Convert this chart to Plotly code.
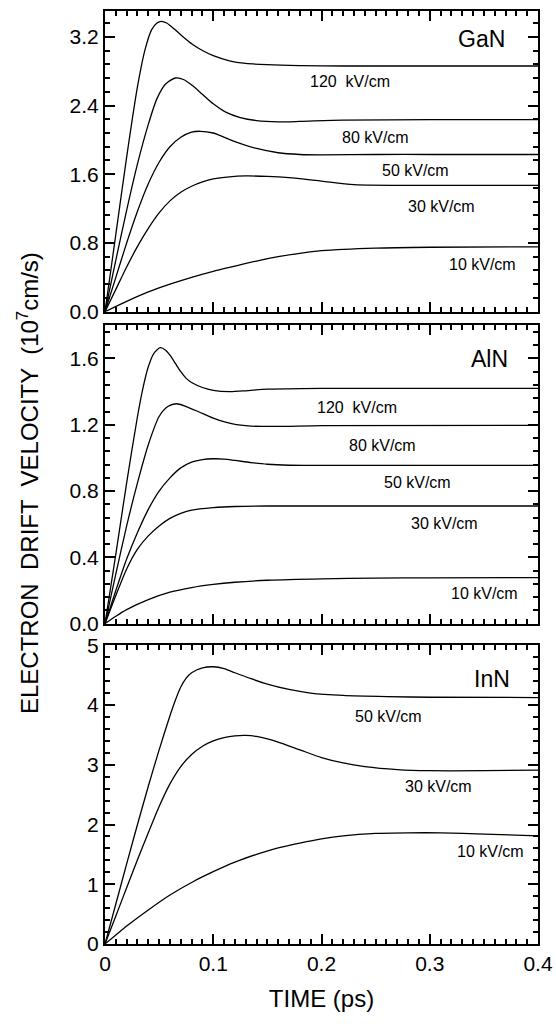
import plotly.graph_objects as go

# ---------------- data (time in ps, velocity in 1e7 cm/s) ----------------
gan_120_t = [0, 0.01, 0.02, 0.03, 0.037, 0.043, 0.048, 0.052, 0.057, 0.064, 0.072, 0.081, 0.09, 0.1, 0.115, 0.13, 0.15, 0.18, 0.22, 0.3, 0.4]
gan_120_v = [0, 0.9, 1.8, 2.62, 3.05, 3.28, 3.36, 3.38, 3.36, 3.29, 3.2, 3.11, 3.04, 2.98, 2.92, 2.89, 2.875, 2.865, 2.86, 2.86, 2.86]
gan_80_t = [0, 0.01, 0.02, 0.03, 0.04, 0.048, 0.056, 0.065, 0.073, 0.081, 0.09, 0.1, 0.112, 0.125, 0.14, 0.16, 0.18, 0.22, 0.3, 0.4]
gan_80_v = [0, 0.6, 1.18, 1.72, 2.18, 2.48, 2.65, 2.72, 2.7, 2.63, 2.53, 2.42, 2.32, 2.26, 2.225, 2.21, 2.215, 2.23, 2.235, 2.235]
gan_50_t = [0, 0.01, 0.02, 0.03, 0.04, 0.05, 0.06, 0.07, 0.08, 0.088, 0.1, 0.12, 0.14, 0.16, 0.18, 0.2, 0.25, 0.3, 0.4]
gan_50_v = [0, 0.4, 0.8, 1.17, 1.49, 1.74, 1.92, 2.03, 2.09, 2.1, 2.08, 1.98, 1.9, 1.85, 1.83, 1.825, 1.83, 1.83, 1.83]
gan_30_t = [0, 0.01, 0.02, 0.03, 0.04, 0.05, 0.06, 0.07, 0.08, 0.09, 0.1, 0.115, 0.13, 0.15, 0.17, 0.2, 0.23, 0.3, 0.4]
gan_30_v = [0, 0.26, 0.52, 0.76, 0.97, 1.15, 1.29, 1.39, 1.46, 1.51, 1.545, 1.57, 1.58, 1.575, 1.56, 1.52, 1.48, 1.47, 1.47]
gan_10_t = [0, 0.02, 0.04, 0.06, 0.08, 0.1, 0.12, 0.14, 0.16, 0.18, 0.2, 0.25, 0.3, 0.4]
gan_10_v = [0, 0.12, 0.23, 0.32, 0.4, 0.47, 0.53, 0.59, 0.64, 0.68, 0.71, 0.74, 0.75, 0.755]

aln_120_t = [0, 0.01, 0.02, 0.03, 0.035, 0.04, 0.045, 0.051, 0.056, 0.06, 0.065, 0.07, 0.075, 0.08, 0.09, 0.1, 0.115, 0.13, 0.15, 0.2, 0.4]
aln_120_v = [0, 0.42, 0.85, 1.25, 1.42, 1.55, 1.63, 1.665, 1.65, 1.62, 1.57, 1.52, 1.48, 1.455, 1.425, 1.408, 1.40, 1.405, 1.415, 1.42, 1.42]
aln_80_t = [0, 0.01, 0.02, 0.03, 0.04, 0.05, 0.058, 0.066, 0.075, 0.087, 0.1, 0.118, 0.135, 0.16, 0.2, 0.4]
aln_80_v = [0, 0.3, 0.59, 0.85, 1.08, 1.25, 1.31, 1.327, 1.31, 1.277, 1.24, 1.205, 1.192, 1.19, 1.195, 1.197]
aln_50_t = [0, 0.01, 0.02, 0.03, 0.04, 0.05, 0.06, 0.07, 0.08, 0.09, 0.1, 0.11, 0.12, 0.135, 0.15, 0.17, 0.2, 0.4]
aln_50_v = [0, 0.2, 0.39, 0.55, 0.69, 0.8, 0.88, 0.94, 0.975, 0.99, 0.995, 0.993, 0.985, 0.972, 0.962, 0.956, 0.955, 0.955]
aln_30_t = [0, 0.01, 0.02, 0.03, 0.04, 0.05, 0.06, 0.07, 0.08, 0.1, 0.12, 0.15, 0.4]
aln_30_v = [0, 0.17, 0.33, 0.45, 0.53, 0.59, 0.635, 0.665, 0.685, 0.7, 0.707, 0.71, 0.71]
aln_10_t = [0, 0.01, 0.02, 0.04, 0.06, 0.08, 0.1, 0.12, 0.15, 0.2, 0.25, 0.3, 0.4]
aln_10_v = [0, 0.045, 0.085, 0.145, 0.19, 0.218, 0.237, 0.25, 0.262, 0.271, 0.275, 0.277, 0.278]

inn_50_t = [0, 0.01, 0.02, 0.03, 0.04, 0.05, 0.06, 0.065, 0.07, 0.075, 0.08, 0.09, 0.1, 0.11, 0.12, 0.135, 0.15, 0.17, 0.19, 0.22, 0.26, 0.3, 0.4]
inn_50_v = [0, 0.67, 1.34, 2.0, 2.64, 3.25, 3.82, 4.08, 4.3, 4.45, 4.54, 4.62, 4.64, 4.61, 4.54, 4.44, 4.35, 4.26, 4.2, 4.16, 4.14, 4.13, 4.125]
inn_30_t = [0, 0.01, 0.02, 0.03, 0.04, 0.05, 0.06, 0.07, 0.08, 0.09, 0.1, 0.11, 0.12, 0.13, 0.14, 0.15, 0.16, 0.18, 0.2, 0.22, 0.24, 0.27, 0.3, 0.35, 0.4]
inn_30_v = [0, 0.47, 0.94, 1.41, 1.86, 2.3, 2.68, 2.97, 3.17, 3.31, 3.4, 3.455, 3.483, 3.49, 3.475, 3.435, 3.38, 3.25, 3.12, 3.03, 2.97, 2.92, 2.9, 2.9, 2.91]
inn_10_t = [0, 0.01, 0.02, 0.04, 0.06, 0.08, 0.1, 0.12, 0.14, 0.16, 0.18, 0.2, 0.22, 0.25, 0.28, 0.31, 0.35, 0.4]
inn_10_v = [0, 0.15, 0.3, 0.57, 0.82, 1.03, 1.21, 1.37, 1.5, 1.61, 1.69, 1.76, 1.81, 1.85, 1.86, 1.86, 1.84, 1.81]

x_tickvals = [0, 0.1, 0.2, 0.3, 0.4]
x_ticktext = ["0", "0.1", "0.2", "0.3", "0.4"]
gan_ticks = [0.0, 0.8, 1.6, 2.4, 3.2]
gan_ticktext = ["0.0", "0.8", "1.6", "2.4", "3.2"]
aln_ticks = [0.0, 0.4, 0.8, 1.2, 1.6]
aln_ticktext = ["0.0", "0.4", "0.8", "1.2", "1.6"]
inn_ticks = [0, 1, 2, 3, 4, 5]
inn_ticktext = ["0", "1", "2", "3", "4", "5"]

panels = [
    ("GaN", [(gan_120_t, gan_120_v), (gan_80_t, gan_80_v), (gan_50_t, gan_50_v), (gan_30_t, gan_30_v), (gan_10_t, gan_10_v)]),
    ("AlN", [(aln_120_t, aln_120_v), (aln_80_t, aln_80_v), (aln_50_t, aln_50_v), (aln_30_t, aln_30_v), (aln_10_t, aln_10_v)]),
    ("InN", [(inn_50_t, inn_50_v), (inn_30_t, inn_30_v), (inn_10_t, inn_10_v)]),
]

FONT = "Liberation Sans, Arial, Helvetica, sans-serif"
fig = go.Figure()

for i, (name, curves) in enumerate(panels):
    n = "" if i == 0 else str(i + 1)
    for t, v in curves:
        fig.add_trace(go.Scatter(x=t, y=v, mode="lines", xaxis="x" + n, yaxis="y" + n,
                                 line=dict(color="black", width=1.3, shape="spline", smoothing=0.7),
                                 showlegend=False))

domains = [[0.6777, 1.0], [0.3433, 0.6631], [0.0, 0.3202]]
yranges = [[0, 3.5], [0, 1.8], [0, 5]]
yticks = [(gan_ticks, gan_ticktext, 0.16), (aln_ticks, aln_ticktext, 0.08), (inn_ticks, inn_ticktext, 0.2)]

layout = dict(
    template="none",
    width=556, height=1032,
    margin=dict(l=105, r=18, t=11, b=88, autoexpand=False),
    paper_bgcolor="white", plot_bgcolor="white",
    showlegend=False,
)

for i in range(3):
    n = "" if i == 0 else str(i + 1)
    tv, tt, mdt = yticks[i]
    layout["xaxis" + n] = dict(
        domain=[0, 1], anchor="y" + n, range=[0, 0.4],
        showline=True, linecolor="black", linewidth=2, mirror="ticks",
        ticks="inside", ticklen=10, tickwidth=1.5, tickcolor="black",
        tickvals=x_tickvals, ticktext=x_ticktext,
        showticklabels=(i == 2),
        tickfont=dict(size=21, family=FONT, color="black"),
        minor=dict(dtick=0.01, ticks="inside", ticklen=5, tickcolor="black"),
        showgrid=True, gridcolor="white", zerolinecolor="black",
    )
    layout["yaxis" + n] = dict(
        domain=domains[i], anchor="x" + n, range=yranges[i],
        showline=True, linecolor="black", linewidth=2, mirror="ticks",
        ticks="inside", ticklen=10, tickwidth=1.5, tickcolor="black",
        tickvals=tv, ticktext=tt,
        tickfont=dict(size=21, family=FONT, color="black"),
        minor=dict(dtick=mdt, ticks="inside", ticklen=5, tickcolor="black"),
        showgrid=True, gridcolor="white", zerolinecolor="black",
    )

layout["xaxis3"]["title"] = dict(text="TIME (ps)", font=dict(size=24, family=FONT, color="black"), standoff=16)

fig.update_layout(**layout)

labels = [
    ("x", "y", [("GaN", 0.371, 3.17, "right", 23),
                ("120  kV/cm", 0.2262, 2.684, "center", 16),
                ("80 kV/cm", 0.2502, 2.03, "center", 16),
                ("50 kV/cm", 0.2864, 1.642, "center", 16),
                ("30 kV/cm", 0.311, 1.225, "center", 16),
                ("10 kV/cm", 0.3487, 0.545, "center", 16)]),
    ("x2", "y2", [("AlN", 0.3741, 1.598, "right", 23),
                  ("120  kV/cm", 0.2328, 1.307, "center", 16),
                  ("80 kV/cm", 0.2561, 1.076, "center", 16),
                  ("50 kV/cm", 0.2885, 0.849, "center", 16),
                  ("30 kV/cm", 0.3136, 0.603, "center", 16),
                  ("10 kV/cm", 0.3506, 0.181, "center", 16)]),
    ("x3", "y3", [("InN", 0.3764, 4.43, "right", 23),
                  ("50 kV/cm", 0.2617, 3.80, "center", 16),
                  ("30 kV/cm", 0.3085, 2.63, "center", 16),
                  ("10 kV/cm", 0.356, 1.54, "center", 16)]),
]
for xr, yr, items in labels:
    for text, x, y, anchor, size in items:
        fig.add_annotation(x=x, y=y, xref=xr, yref=yr, text=text, showarrow=False,
                           xanchor=anchor, yanchor="middle",
                           font=dict(size=size, family=FONT, color="black"))

fig.add_annotation(x=-0.178, y=0.494, xref="paper", yref="paper",
                   text="ELECTRON  DRIFT  VELOCITY  (10<sup>7</sup>cm/s)",
                   textangle=-90, showarrow=False, xanchor="center", yanchor="middle",
                   font=dict(size=24, family=FONT, color="black"))

fig.write_html("out.html", config={"displayModeBar": False},
               post_script="document.body.style.margin='0px';")
